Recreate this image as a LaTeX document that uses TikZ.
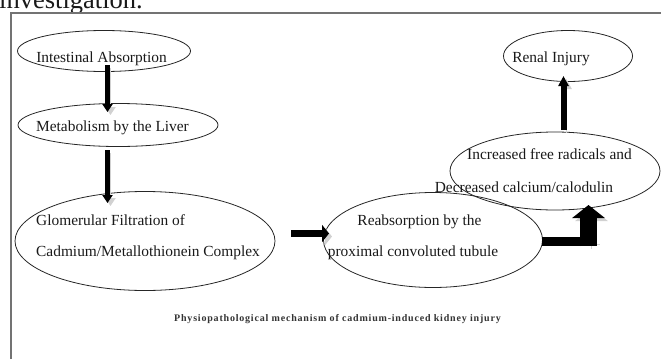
\documentclass[tikz,border=0pt]{standalone}
\usepackage{fontspec}
\setmainfont{Liberation Serif}
\usetikzlibrary{shapes.geometric,arrows.meta}

\begin{document}
\begin{tikzpicture}
	[x=1pt, y=-1pt,
	bubble/.style={draw=black!85, ellipse, line width=0.8pt, inner sep=0pt},
	steptext/.style={anchor=base, inner sep=0pt, text=black!90, font=\fontsize{15.4}{18}\selectfont},
	fat/.style={line width=#1, black},
	arrowshade/.style={draw=black!18, transform canvas={shift={(3,3)}}}]
	\useasboundingbox (0,0) rectangle (661,359);

	% Page text and frame
	\node[anchor=base west, inner sep=0pt, text=black!90, font=\fontsize{26.5}{30}\selectfont] (pagetext) at (-1,8) {investigation.};
	\draw[black!55, line width=1.3pt] (11,359) -- (11,13) -- (661,13);

	% Ellipses
	\node[bubble, minimum width=173, minimum height=41] (absorb) at (104,51) {};
	\node[bubble, minimum width=200, minimum height=43] (liver) at (118,125) {};
	\node[bubble, minimum width=260, minimum height=99] (glomerular) at (145,241) {};
	\node[bubble, minimum width=219, minimum height=95] (reabsorb) at (433,240) {};
	\node[bubble, minimum width=210, minimum height=78] (radicals) at (555,171) {};
	\node[bubble, minimum width=129, minimum height=51] (injury) at (568,56) {};

	% Ellipse texts
	\node[steptext] (absorbtext) at (101.5,62) {Intestinal Absorption};
	\node[steptext] (livertext) at (112.5,131) {Metabolism by the Liver};
	\node[steptext, anchor=base west] (glomtexta) at (36,225) {Glomerular Filtration of};
	\node[steptext, anchor=base west] (glomtextb) at (36,256) {Cadmium/Metallothionein Complex};
	\node[steptext] (reabtexta) at (419.5,225) {Reabsorption by the};
	\node[steptext] (reabtextb) at (413,256) {proximal convoluted tubule};
	\node[steptext] (radtexta) at (549.5,159) {Increased free radicals and};
	\node[steptext] (radtextb) at (524,192) {Decreased calcium/calodulin};
	\node[steptext] (injurytext) at (551,62) {Renal Injury};

	% Caption
	\node[anchor=base, inner sep=0pt, text=black!80, font=\fontsize{10}{11}\selectfont\bfseries\addfontfeatures{LetterSpace=8}] (figcaption) at (337.5,321) {Physiopathological mechanism of cadmium-induced kidney injury};

	% Arrow end points
	\coordinate (a1from) at (107.5,65);
	\coordinate (a1to) at (107.5,112);
	\coordinate (a2from) at (107.5,150);
	\coordinate (a2to) at (107.5,203);
	\coordinate (a3from) at (291,233.5);
	\coordinate (a3to) at (329,233.5);
	\coordinate (a4from) at (542,241.5);
	\coordinate (a4bend) at (597,241.5);
	\coordinate (a4up) at (588.5,246);
	\coordinate (a4to) at (588.5,205);
	\coordinate (a5from) at (563.5,130);
	\coordinate (a5to) at (563.5,76);

	% Block arrows
	\draw[fat=4.5pt, -{Triangle[width=10pt,length=8pt]}, preaction={arrowshade}] (a1from) -- (a1to);
	\draw[fat=4.5pt, -{Triangle[width=10pt,length=8pt]}, preaction={arrowshade}] (a2from) -- (a2to);
	\draw[fat=7pt, -{Triangle[width=17pt,length=7pt]}, preaction={arrowshade}] (a3from) -- (a3to);
	\draw[fat=9pt, preaction={arrowshade}] (a4from) -- (a4bend);
	\draw[fat=17pt, -{Triangle[width=32pt,length=13pt]}, preaction={arrowshade}] (a4up) -- (a4to);
	\draw[fat=6pt, -{Triangle[width=10pt,length=10pt]}, preaction={arrowshade}] (a5from) -- (a5to);
\end{tikzpicture}
\end{document}
